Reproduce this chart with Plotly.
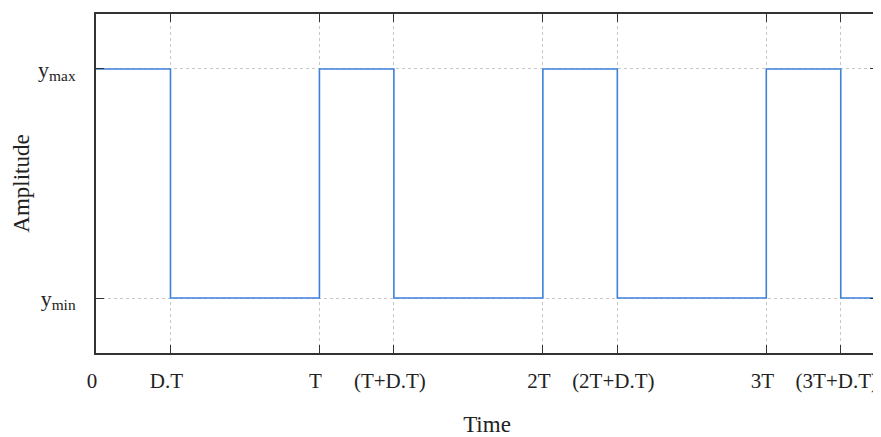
import plotly.graph_objects as go

T = 1.0
D = 1.0 / 3.0

# Signal switching instants and levels (1 = ymax, 0 = ymin)
times = [0, D * T, T, T + D * T, 2 * T, 2 * T + D * T, 3 * T, 3 * T + D * T, 3.5 * T]
levels = [1, 0, 1, 0, 1, 0, 1, 0, 0]

x_tick_vals = [0, D * T, T, T + D * T, 2 * T, 2 * T + D * T, 3 * T, 3 * T + D * T]
x_tick_text = ["0", "D.T", "T", "(T+D.T)", "2T", "(2T+D.T)", "3T", "(3T+D.T)"]
y_tick_vals = [0, 1]
y_tick_text = ["y<sub>min</sub>", "y<sub>max</sub>"]

FONT = "Liberation Serif, Times New Roman, serif"

fig = go.Figure()
fig.add_trace(go.Scatter(
    x=times, y=levels, mode="lines", line_shape="hv",
    line=dict(color="#3f80dc", width=1.6), showlegend=False, hoverinfo="skip",
))

# The page body has an 8px margin, so the figure is sized/offset to compensate.
fig.update_layout(
    width=873, height=429,
    margin=dict(l=88, r=3, t=6, b=84),
    paper_bgcolor="white", plot_bgcolor="white",
    font=dict(family=FONT, size=19, color="#222"),
)
fig.update_xaxes(
    range=[0, 3.5 * T], tickvals=x_tick_vals, ticktext=x_tick_text,
    showgrid=True, gridcolor="#c8c8c8", gridwidth=1, griddash="dot",
    showline=True, linecolor="#333", linewidth=2, mirror="ticks",
    ticks="inside", ticklen=8, tickcolor="#333", tickwidth=1,
    zeroline=False, automargin=False, ticklabelshift=-4, ticklabelstandoff=8,
    title=dict(text="Time", standoff=30),
    tickfont=dict(family=FONT, size=21, color="#222"),
)
fig.update_yaxes(
    range=[-0.24, 1.24], tickvals=y_tick_vals, ticktext=y_tick_text,
    showgrid=True, gridcolor="#c8c8c8", gridwidth=1, griddash="dot",
    showline=True, linecolor="#333", linewidth=2, mirror="ticks",
    ticks="inside", ticklen=8, tickcolor="#333", tickwidth=1,
    zeroline=False, automargin=False, ticklabelstandoff=14,
    title=dict(text="Amplitude", standoff=2),
    tickfont=dict(family=FONT, size=22, color="#222"),
)

fig.write_html("out.html")
